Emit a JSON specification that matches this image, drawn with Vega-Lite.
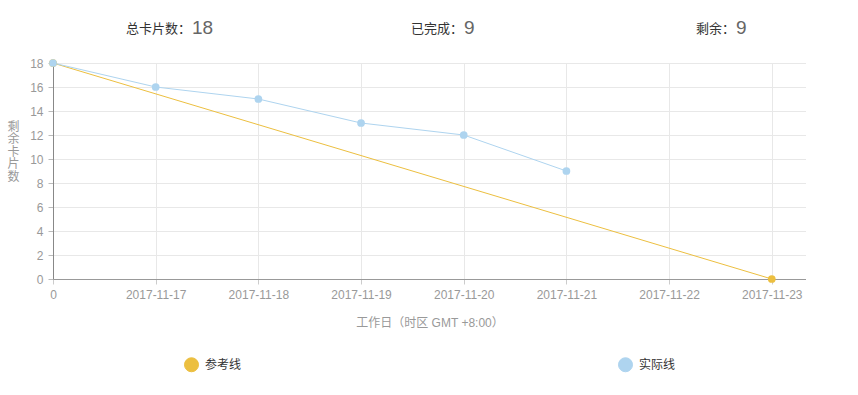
{
  "$schema": "https://vega.github.io/schema/vega-lite/v6.json",
  "padding": {"left": 6, "top": 18, "right": 0, "bottom": 0},
  "background": "white",
  "config": {
    "view": {"stroke": null},
    "font": "Liberation Sans, Noto Sans CJK SC"
  },
  "spacing": 19,
  "vconcat": [
    {
      "width": 753,
      "height": 20,
      "data": {"values": [
        {"slot": 1, "label": "总卡片数：", "num": "18"},
        {"slot": 2, "label": "已完成：", "num": "9"},
        {"slot": 3, "label": "剩余：", "num": "9"}
      ]},
      "encoding": {
        "x": {"field": "slot", "type": "quantitative", "axis": null,
              "scale": {"domain": [0.493, 3.261], "nice": false, "zero": false}}
      },
      "layer": [
        {"mark": {"type": "text", "align": "right", "baseline": "middle", "fontSize": 13, "color": "#333", "dy": 1},
         "encoding": {"text": {"field": "label"}}},
        {"mark": {"type": "text", "align": "left", "baseline": "middle", "fontSize": 19, "color": "#666", "dx": 1},
         "encoding": {"text": {"field": "num"}}}
      ]
    },
    {
      "width": 753,
      "height": 216,
      "data": {"values": [
        {"date": "2017-11-16", "remaining": 18, "series": "参考线"},
        {"date": "2017-11-23", "remaining": 0, "series": "参考线"},
        {"date": "2017-11-16", "remaining": 18, "series": "实际线"},
        {"date": "2017-11-17", "remaining": 16, "series": "实际线"},
        {"date": "2017-11-18", "remaining": 15, "series": "实际线"},
        {"date": "2017-11-19", "remaining": 13, "series": "实际线"},
        {"date": "2017-11-20", "remaining": 12, "series": "实际线"},
        {"date": "2017-11-21", "remaining": 9, "series": "实际线"}
      ]},
      "encoding": {
        "x": {
          "field": "date", "type": "temporal",
          "scale": {"type": "utc",
                    "domain": [{"year": 2017, "month": 11, "date": 16, "utc": true},
                               {"year": 2017, "month": 11, "date": 23, "hours": 8, "utc": true}]},
          "axis": {
            "title": "工作日（时区 GMT +8:00）",
            "tickCount": {"interval": "day", "step": 1},
            "labelExpr": "utcdate(datum.value) == 16 ? '0' : utcFormat(datum.value, '%Y-%m-%d')",
            "labelColor": "#999", "labelFontSize": 12, "labelPadding": 5, "labelFlush": false, "labelOverlap": false,
            "domainColor": "#999", "tickColor": "#ccc", "tickSize": 5,
            "gridColor": "#e8e8e8",
            "titleColor": "#999", "titleFontSize": 12, "titleFontWeight": "normal", "titlePadding": 17
          }
        },
        "y": {
          "field": "remaining", "type": "quantitative",
          "scale": {"domain": [0, 18], "nice": false},
          "axis": {
            "title": ["剩", "余", "卡", "片", "数"],
            "titleAngle": 0, "titleX": -40, "titleY": 58, "titleAlign": "center", "titleBaseline": "top",
            "titleLineHeight": 12.5,
            "values": [0, 2, 4, 6, 8, 10, 12, 14, 16, 18],
            "labelColor": "#999", "labelFontSize": 12, "labelPadding": 5,
            "domainColor": "#888", "tickColor": "#bbb", "tickSize": 5,
            "gridColor": "#e8e8e8",
            "titleColor": "#999", "titleFontSize": 12, "titleFontWeight": "normal"
          }
        },
        "color": {"field": "series", "type": "nominal",
                  "scale": {"domain": ["参考线", "实际线"], "range": ["#ecbf40", "#aed4ef"]},
                  "legend": {
                    "title": null, "orient": "none", "legendX": 131, "legendY": 339,
                    "direction": "horizontal", "columnPadding": 374,
                    "symbolType": "circle", "symbolSize": 196, "symbolStrokeWidth": 1,
                    "symbolOpacity": 1,
                    "labelFontSize": 12, "labelColor": "#333", "labelOffset": 6,
                    "encode": {"symbols": {"update": {
                      "fill": {"scale": "color", "field": "value"},
                      "stroke": {"scale": "color", "field": "value"}
                    }}}
                  }}
      },
      "layer": [
        {
          "mark": {"type": "line", "strokeWidth": 1}
        },
        {
          "mark": {"type": "point", "shape": "circle", "filled": true, "size": 60, "opacity": 1}
        }
      ]
    }
  ]
}
